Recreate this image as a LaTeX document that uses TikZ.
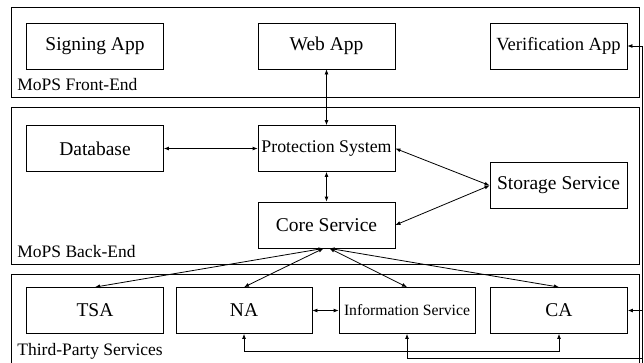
\documentclass[tikz,border=0pt]{standalone}
\usepackage{fontspec}
\setmainfont{Liberation Serif}
\usetikzlibrary{arrows.meta}

\begin{document}
\begin{tikzpicture}[x=1pt, y=-1pt, line width=0.8pt, >={Latex[length=5pt,width=4pt]},
        box/.style={draw, minimum width=137, minimum height=46, inner sep=0pt, font=\fontsize{19.5}{20}\selectfont},
        layer/.style={draw},
        layerlabel/.style={anchor=west, inner sep=0pt, font=\fontsize{17.5}{18}\selectfont}]
                \useasboundingbox (0,0) rectangle (644,362);

                % layers
                \draw[layer] (11,7) rectangle (639,97);
                \draw[layer] (11,107) rectangle (639,264);
                \draw[layer] (11,274) rectangle (639,364);
                \node[layerlabel] (lfront) at (17,85) {MoPS Front-End};
                \node[layerlabel] (lback) at (17,252) {MoPS Back-End};
                \node[layerlabel] (lthird) at (17,351) {Third-Party Services};

                % front-end
                \node[box] (sign) at (95,46) {Signing App};
                \node[box] (web) at (326.5,46) {Web App};
                \node[box, font=\fontsize{18.6}{19}\selectfont] (ver) at (558.5,46) {Verification App};

                % back-end
                \node[box] (db) at (95,148.5) {Database};
                \node[box, font=\fontsize{17.8}{18}\selectfont] (prot) at (326.5,148.5) {Protection System};
                \node[box] (store) at (558.5,185.5) {Storage Service};
                \node[box] (core) at (326.5,225) {Core Service};

                % third-party
                \node[box] (tsa) at (95,310.5) {TSA};
                \node[box, minimum width=136] (na) at (244,310.5) {NA};
                \node[box, minimum width=136, font=\fontsize{15.7}{16}\selectfont] (info) at (407,310.5) {Information Service};
                \node[box] (ca) at (559,310.5) {CA};

                \coordinate (cl) at ([xshift=-3]core.south);
                \coordinate (cr) at ([xshift=3]core.south);
                \coordinate (rail) at (642,358);
                \coordinate (railbot) at (642,363);

                \draw[<->] (web) -- (prot);
                \draw[<->] (db) -- (prot);
                \draw[<->] (prot) -- (core);
                \draw[<->] (prot.east) -- (store.west);
                \draw[<->] (core.east) -- (store.west);

                \draw[<->] (cl) -- (tsa.north);
                \draw[<->] (cl) -- (na.north);
                \draw[<->] (cr) -- (info.north);
                \draw[<->] (cr) -- (ca.north);

                \draw[<->] (na) -- (info);
                \draw[<->] (na.south) -- ++(0,17) -| (ca.south);
                \draw[<-] (info.south) |- (rail);
                \draw[->] (railbot) |- (ver.east);
                \draw[->] (ca.east -| rail) -- (ca.east);
            \end{tikzpicture}
\end{document}
